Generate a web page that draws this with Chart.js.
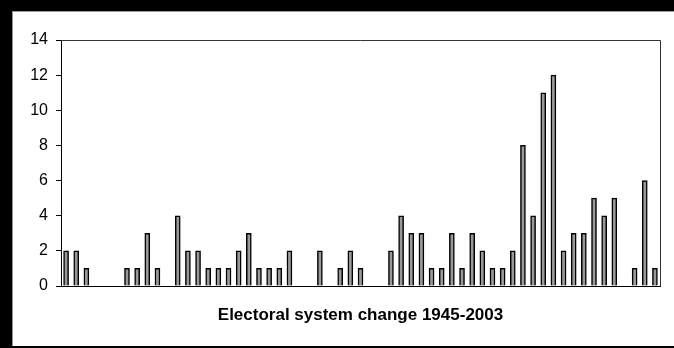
<!DOCTYPE html>
<html>
<head>
<meta charset="utf-8">
<script src="https://cdn.jsdelivr.net/npm/chart.js@4/dist/chart.umd.min.js"></script>
<style>
  html, body { margin: 0; padding: 0; background: #fff; overflow: hidden; }
  #wrap { position: relative; width: 674px; height: 348px; }
</style>
</head>
<body>
<div id="wrap"><canvas id="grafico" width="674" height="348"></canvas></div>
<script>
// años 1945-2003
const years = [];
for (let y = 1945; y <= 2003; y++) years.push(String(y));

// cambios de sistema electoral por año
const changes = [
  2, 2, 1, 0, 0, 0, 1, 1, 3, 1,
  0, 4, 2, 2, 1, 1, 1, 2, 3, 1,
  1, 1, 2, 0, 0, 2, 0, 1, 2, 1,
  0, 0, 2, 4, 3, 3, 1, 1, 3, 1,
  3, 2, 1, 1, 2, 8, 4, 11, 12, 2,
  3, 3, 5, 4, 5, 0, 1, 6, 1
];

const yTicks = [0, 2, 4, 6, 8, 10, 12, 14];
const titulo = "Electoral system change 1945-2003";

// marco negro, borde del área de trazado y título bajo el eje
const marco = {
  id: "marco",
  beforeDraw(chart) {
    const c = chart.ctx;
    c.save();
    c.fillStyle = "#fff";
    c.fillRect(0, 0, chart.width, chart.height);
    c.fillStyle = "#000";
    c.fillRect(0, 0, 674, 11);
    c.fillRect(0, 0, 12, 348);
    c.fillRect(0, 346, 674, 2);
    c.fillStyle = "#999";
    c.fillRect(12, 11, 662, 1);
    c.fillRect(12, 11, 1, 335);
    c.restore();
  },
  afterDatasetsDraw(chart) {
    const a = chart.chartArea;
    const c = chart.ctx;
    c.save();
    c.strokeStyle = "#333";
    c.lineWidth = 1;
    c.beginPath();
    c.moveTo(a.left, Math.round(a.top) + 0.5);
    c.lineTo(Math.round(a.right) + 0.5, Math.round(a.top) + 0.5);
    c.lineTo(Math.round(a.right) + 0.5, a.bottom);
    c.stroke();

    c.fillStyle = "#000";
    c.font = "bold 17px 'Liberation Sans', Arial, sans-serif";
    c.textAlign = "center";
    c.textBaseline = "middle";
    c.fillText(titulo, (a.left + a.right) / 2, a.bottom + 29);
    c.restore();
  }
};

new Chart(document.getElementById("grafico"), {
  type: "bar",
  data: {
    labels: years,
    datasets: [{
      data: changes,
      backgroundColor: "#999999",
      borderColor: "#000",
      borderWidth: 1.5,
      barThickness: 5,
      categoryPercentage: 1.0
    }]
  },
  options: {
    responsive: false,
    animation: false,
    layout: { padding: { left: 0, top: 40, right: 14, bottom: 62 } },
    plugins: {
      legend: { display: false },
      tooltip: { enabled: false },
      title: { display: false }
    },
    scales: {
      x: {
        grid: { display: false },
        ticks: { display: false },
        border: { display: true, color: "#000", width: 1 },
        afterFit: (s) => { s.height = 0; }
      },
      y: {
        min: 0,
        max: 14,
        afterBuildTicks: (s) => { s.ticks = yTicks.map(v => ({ value: v })); },
        grid: { drawOnChartArea: false, drawTicks: true, tickLength: 5, color: "#000" },
        border: { display: true, color: "#000", width: 1 },
        ticks: {
          color: "#000",
          padding: 8,
          font: { family: "'Liberation Sans', Arial, sans-serif", size: 16 }
        },
        afterFit: (s) => { s.width = 61; }
      }
    }
  },
  plugins: [marco]
});
</script>
</body>
</html>
